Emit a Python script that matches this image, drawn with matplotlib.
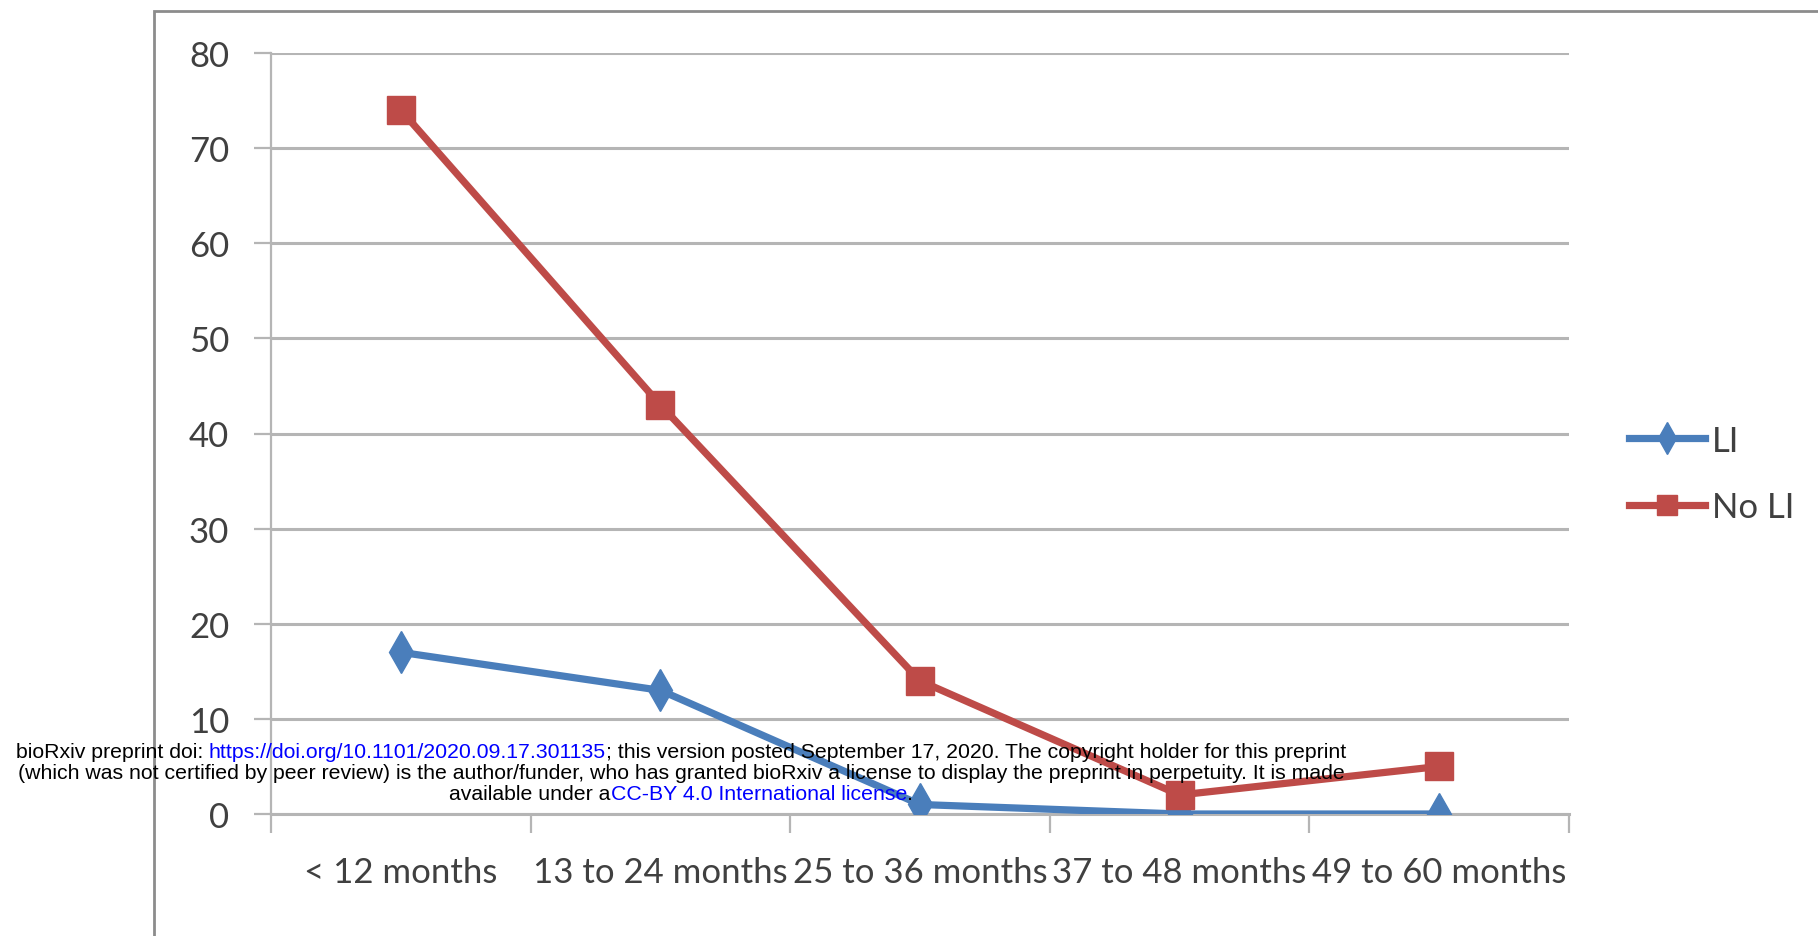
import matplotlib.pyplot as plt
from matplotlib.patches import Rectangle
from matplotlib.lines import Line2D

# age groups and counts
categories = ['< 12 months', '13 to 24 months', '25 to 36 months', '37 to 48 months', '49 to 60 months']
li_values = [17, 13, 1, 0, 0]
no_li_values = [74, 43, 14, 2, 5]
y_ticks = [0, 10, 20, 30, 40, 50, 60, 70, 80]

W, H = 1818, 937
fig = plt.figure(figsize=(W / 100, H / 100), dpi=100)

# outer chart frame (only left and top visible)
fig.patches.append(Rectangle((154 / W, -0.05), 1.2, 1 - 12 / H + 0.05, transform=fig.transFigure,
                             fill=False, edgecolor='#8c8c8c', linewidth=2.0))

ax = fig.add_axes([271 / W, 1 - 815 / H, (1569 - 271) / W, (815 - 54) / H])
x = list(range(len(categories)))

ax.plot(x, li_values, color='#4a7ebb', linewidth=5.2, marker='d', markersize=21, label='LI', zorder=3)
ax.plot(x, no_li_values, color='#be4b48', linewidth=5.2, marker='s', markersize=20, label='No LI', zorder=3)

ax.set_xlim(-0.5, len(categories) - 0.5)
ax.set_ylim(0, 80)
ax.set_yticks(y_ticks)
ax.yaxis.grid(True, color='#b5b5b5', linewidth=2.2)
ax.set_axisbelow(True)

ax.set_xticks([i - 0.5 for i in range(len(categories) + 1)])
ax.set_xticklabels([])
ax.set_xticks(x, minor=True)
ax.set_xticklabels(categories, minor=True, fontsize=25, color='#404040', family='Lato')
ax.tick_params(axis='x', which='minor', length=0, pad=30)
ax.tick_params(axis='x', which='major', length=14, width=1.6, color='#b5b5b5', direction='out')
ax.tick_params(axis='y', length=12, width=1.6, color='#b5b5b5', labelsize=25, labelcolor='#404040', pad=18)
for lab in ax.get_yticklabels():
    lab.set_family('Lato')

for side in ['top', 'right']:
    ax.spines[side].set_visible(False)
ax.spines['left'].set_color('#b5b5b5')
ax.spines['left'].set_linewidth(1.6)
ax.spines['bottom'].set_color('#b5b5b5')
ax.spines['bottom'].set_linewidth(2.2)

leg = fig.legend(handles=[Line2D([], [], color='#4a7ebb', lw=5.2, marker='d', markersize=16),
                          Line2D([], [], color='#be4b48', lw=5.2, marker='s', markersize=15)],
                 labels=['LI', 'No LI'], loc='center left', bbox_to_anchor=(1629 / W, 1 - 475 / H),
                 frameon=False, handlelength=2.2, handletextpad=0.2, labelspacing=1.0,
                 borderpad=0, borderaxespad=0, prop={'family': 'Lato', 'size': 25})
for t in leg.get_texts():
    t.set_color('#404040')

# preprint watermark, each line centred on the same x
wm = {'fontsize': 15.3, 'family': 'Liberation Sans', 'ha': 'left', 'va': 'center'}
cx = 681
lines = [
    (1 - 753 / H, [('bioRxiv preprint doi: ', 'black'),
                   ('https://doi.org/10.1101/2020.09.17.301135', 'blue'),
                   ('; this version posted September 17, 2020. The copyright holder for this preprint', 'black')]),
    (1 - 774 / H, [('(which was not certified by peer review) is the author/funder, who has granted bioRxiv '
                    'a license to display the preprint in perpetuity. It is made', 'black')]),
    (1 - 795 / H, [('available under a', 'black'), ('CC-BY 4.0 International license', 'blue'), ('.', 'black')]),
]
r = fig.canvas.get_renderer()
for yy, parts in lines:
    objs = [fig.text(0, yy, s, color=c, **wm) for s, c in parts]
    widths = [o.get_window_extent(r).width for o in objs]
    xpos = cx - sum(widths) / 2
    for o, w in zip(objs, widths):
        o.set_x(xpos / W)
        xpos += w

fig.savefig('out.png', dpi=100)
